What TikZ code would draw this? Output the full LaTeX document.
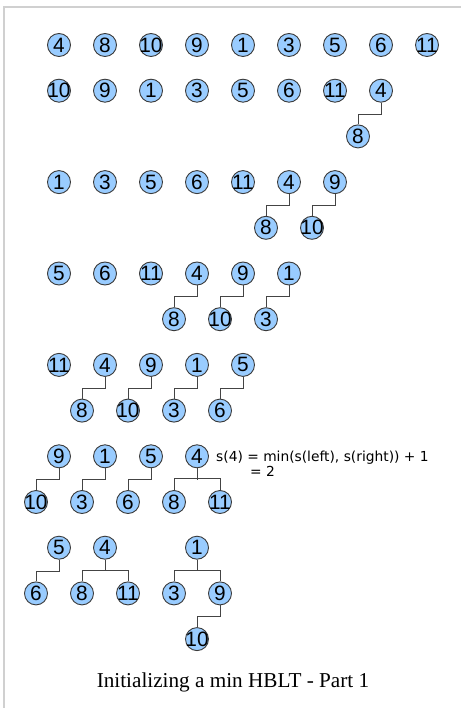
\documentclass[tikz,border=0pt]{standalone}
\usepackage{fontspec}
\setmainfont{Liberation Serif}
\newfontfamily\digitfont{Liberation Sans}
\newfontfamily\annotfont{DejaVu Sans}
\definecolor{nodefill}{HTML}{99CCFF}
\definecolor{nodeline}{HTML}{3A3A3A}
\definecolor{linkcol}{HTML}{444444}
\definecolor{framecol}{HTML}{D0D0D0}
\tikzset{
  hb/.style={circle, draw=nodeline, line width=0.9pt, fill=nodefill, minimum size=23pt, inner sep=0pt,
    font=\digitfont\fontsize{20.8}{20.8}\selectfont},
  lk/.style={draw=linkcol, line width=1pt},
  annot/.style={anchor=base west, inner sep=0pt, font=\annotfont\fontsize{13.8}{13.8}\selectfont},
}
\newcommand{\hn}[1]{\makebox[0pt]{#1}}
\begin{document}
\begin{tikzpicture}[x=1pt,y=-1pt]
\useasboundingbox (0,0) rectangle (461,708);
\fill[white] (0,0) rectangle (461,708);
\draw[framecol, line width=1.6pt] (4,708) -- (4,7) -- (461,7);
% Row 1
\foreach \v/\x [count=\i] in {4/59,8/105,10/151,9/197,1/243,3/289,5/335,6/381,11/427}
  \node[hb] (a\i) at (\x,45) {\hn{\v}};
% Row 2
\foreach \v/\x [count=\i] in {10/59,9/105,1/151,3/197,5/243,6/289,11/335,4/381}
  \node[hb] (b\i) at (\x,90.7) {\hn{\v}};
\node[hb] (b8c) at (358,136.4) {\hn{8}};
\draw[lk] (b8.south) -- ++(0,11.4) -| (b8c.north);
% Row 3
\foreach \v/\x [count=\i] in {1/59,3/105,5/151,6/197,11/243,4/289,9/335}
  \node[hb] (c\i) at (\x,182.1) {\hn{\v}};
\node[hb] (c6c) at (266,227.8) {\hn{8}};
\node[hb] (c7c) at (312,227.8) {\hn{10}};
\draw[lk] (c6.south) -- ++(0,11.4) -| (c6c.north);
\draw[lk] (c7.south) -- ++(0,11.4) -| (c7c.north);
% Row 4
\foreach \v/\x [count=\i] in {5/59,6/105,11/151,4/197,9/243,1/289}
  \node[hb] (d\i) at (\x,273.5) {\hn{\v}};
\node[hb] (d4c) at (174,319.2) {\hn{8}};
\node[hb] (d5c) at (220,319.2) {\hn{10}};
\node[hb] (d6c) at (266,319.2) {\hn{3}};
\draw[lk] (d4.south) -- ++(0,11.4) -| (d4c.north);
\draw[lk] (d5.south) -- ++(0,11.4) -| (d5c.north);
\draw[lk] (d6.south) -- ++(0,11.4) -| (d6c.north);
% Row 5
\foreach \v/\x [count=\i] in {11/59,4/105,9/151,1/197,5/243}
  \node[hb] (e\i) at (\x,364.9) {\hn{\v}};
\node[hb] (e2c) at (82,410.6) {\hn{8}};
\node[hb] (e3c) at (128,410.6) {\hn{10}};
\node[hb] (e4c) at (174,410.6) {\hn{3}};
\node[hb] (e5c) at (220,410.6) {\hn{6}};
\draw[lk] (e2.south) -- ++(0,11.4) -| (e2c.north);
\draw[lk] (e3.south) -- ++(0,11.4) -| (e3c.north);
\draw[lk] (e4.south) -- ++(0,11.4) -| (e4c.north);
\draw[lk] (e5.south) -- ++(0,11.4) -| (e5c.north);
% Row 6
\foreach \v/\x [count=\i] in {9/59,1/105,5/151,4/197}
  \node[hb] (f\i) at (\x,456.3) {\hn{\v}};
\node[hb] (f1c) at (36,502) {\hn{10}};
\node[hb] (f2c) at (82,502) {\hn{3}};
\node[hb] (f3c) at (128,502) {\hn{6}};
\node[hb] (f4l) at (174,502) {\hn{8}};
\node[hb] (f4r) at (220,502) {\hn{11}};
\draw[lk] (f1.south) -- ++(0,11.4) -| (f1c.north);
\draw[lk] (f2.south) -- ++(0,11.4) -| (f2c.north);
\draw[lk] (f3.south) -- ++(0,11.4) -| (f3c.north);
\draw[lk] (f4.south) -- ++(0,11.4);
\draw[lk] (f4l.north) -- ++(0,-11.4) -| (f4r.north);
\node[annot] (ann1) at (216,461) {s(4) = min(s(left), s(right)) + 1};
\node[annot] (ann2) at (250,476) {= 2};
% Row 7
\node[hb] (g1) at (59,547.7) {\hn{5}};
\node[hb] (g2) at (105,547.7) {\hn{4}};
\node[hb] (g3) at (197,547.7) {\hn{1}};
\node[hb] (g1c) at (36,593.4) {\hn{6}};
\node[hb] (g2l) at (82,593.4) {\hn{8}};
\node[hb] (g2r) at (128,593.4) {\hn{11}};
\node[hb] (g3l) at (174,593.4) {\hn{3}};
\node[hb] (g3r) at (220,593.4) {\hn{9}};
\node[hb] (g3rc) at (197,639.1) {\hn{10}};
\draw[lk] (g1.south) -- ++(0,11.4) -| (g1c.north);
\draw[lk] (g2.south) -- ++(0,11.4);
\draw[lk] (g2l.north) -- ++(0,-11.4) -| (g2r.north);
\draw[lk] (g3.south) -- ++(0,11.4);
\draw[lk] (g3l.north) -- ++(0,-11.4) -| (g3r.north);
\draw[lk] (g3r.south) -- ++(0,11.4) -| (g3rc.north);
% Caption
\node[font=\fontsize{21.2}{21.2}\selectfont, inner sep=0pt] (cap) at (233,682) {Initializing a min HBLT - Part 1};
\end{tikzpicture}
\end{document}
